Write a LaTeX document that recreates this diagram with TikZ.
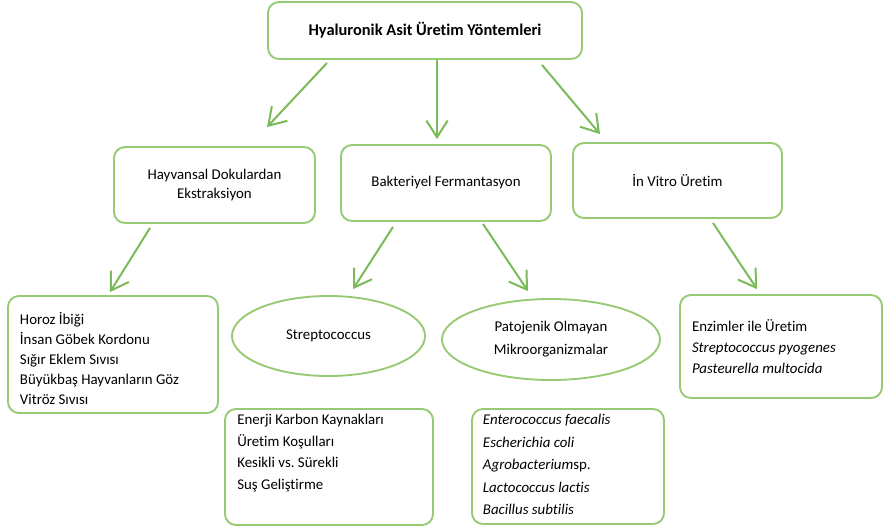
\documentclass[tikz,border=0pt]{standalone}
\usepackage{fontspec}
\setmainfont{Carlito}[Ligatures=NoCommon]
\usetikzlibrary{arrows.meta,calc,shapes.geometric}
\definecolor{boxgreen}{RGB}{150,202,115}
\definecolor{arrowgreen}{RGB}{122,186,88}

\begin{document}
\begin{tikzpicture}[x=0.03cm,y=-0.03cm,
    box/.style={draw=boxgreen,line width=1.6pt,rounded corners=0.33cm,align=center,
      font=\fontsize{12.7}{17}\selectfont},
    listbox/.style={box,align=left,inner xsep=0.36cm,inner ysep=0pt},
    oval/.style={ellipse,draw=boxgreen,line width=1.6pt,align=center,
      font=\fontsize{12.7}{19.5}\selectfont},
    arr/.style={draw=arrowgreen,line width=1.7pt,
      -{Straight Barb[length=0.5cm,width=0.64cm]}}]
  \useasboundingbox (0,0) rectangle (883,529);

  % top
  \node[box,minimum width=9.42cm,minimum height=1.71cm,
    font=\bfseries\fontsize{14}{16}\selectfont] (top) at (425,30.5)
    {Hyaluronik Asit Üretim Yöntemleri};

  % methods
  \node[box,minimum width=6.03cm,minimum height=2.28cm] (animal) at (214.5,185)
    {Hayvansal Dokulardan\\Ekstraksiyon};
  \node[box,minimum width=6.3cm,minimum height=2.28cm] (ferment) at (446,183)
    {Bakteriyel Fermantasyon};
  \node[box,minimum width=6.27cm,minimum height=2.25cm] (invitro) at (677.5,180.5)
    {İn Vitro Üretim};

  % second level
  \node[listbox,minimum width=6.3cm,minimum height=3.51cm,
    font=\fontsize{12.7}{17.2}\selectfont] (tissues) at (113,354.5)
    {\parbox[c][2.55cm][t]{5.58cm}{Horoz İbiği\\İnsan Göbek Kordonu\\Sığır Eklem Sıvısı\\Büyükbaş Hayvanların Göz\\Vitröz Sıvısı}};
  \node[oval,minimum width=5.79cm,minimum height=2.4cm] (strep) at (328.5,336)
    {Streptococcus};
  \node[oval,minimum width=6.54cm,minimum height=2.43cm] (nonpath) at (551,339.5)
    {Patojenik Olmayan\\Mikroorganizmalar};
  \node[listbox,minimum width=6.06cm,minimum height=3.09cm,
    font=\fontsize{12.7}{18}\selectfont] (enzyme) at (781,346.5)
    {\parbox{5.34cm}{Enzimler ile Üretim\\\textit{Streptococcus pyogenes}\\\textit{Pasteurella multocida}}};

  % bottom lists
  \node[listbox,minimum width=6.24cm,minimum height=3.48cm,
    font=\fontsize{12.7}{18.6}\selectfont] (strepnotes) at (329,467)
    {\parbox[c][3.18cm][t]{5.5cm}{Enerji Karbon Kaynakları\\Üretim Koşulları\\Kesikli vs.\ Sürekli\\Suş Geliştirme}};
  \node[listbox,inner xsep=0.33cm,minimum width=5.76cm,minimum height=3.45cm,
    font=\fontsize{12.7}{19.2}\selectfont] (microbes) at (568,466.5)
    {\parbox[c][3.12cm][t]{5.1cm}{\textit{Enterococcus faecalis}\\\textit{Escherichia coli}\\\textit{Agrobacterium}sp.\\\textit{Lactococcus lactis}\\\textit{Bacillus subtilis}}};

  % arrows
  \draw[arr] ($(top.south)+(-98,3)$) -- ($(animal.north)+(52.5,-19)$);
  \draw[arr] ($(top.south)+(12,0)$) -- ($(ferment.north)+(-9,-5)$);
  \draw[arr] ($(top.south)+(117,5)$) -- ($(invitro.north)+(-77.5,-8)$);
  \draw[arr] ($(animal.south)+(-64.5,4)$) -- ($(tissues.north)+(-3,-3)$);
  \draw[arr] ($(ferment.south)+(-53,5)$) -- ($(strep.north)+(24.5,-6)$);
  \draw[arr] ($(ferment.south)+(37,2)$) -- ($(nonpath.north)+(-23,-7)$);
  \draw[arr] ($(invitro.south)+(35.5,4)$) -- ($(enzyme.north)+(-24,-5)$);
\end{tikzpicture}
\end{document}
